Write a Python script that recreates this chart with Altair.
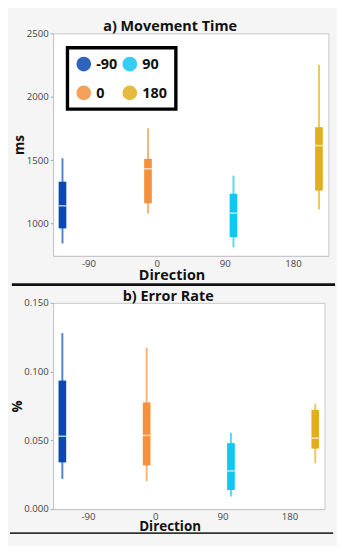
import altair as alt
import pandas as pd

directions = ["-90", "0", "90", "180"]
colors = {"-90": "#0b49b2", "0": "#f5913c", "90": "#10c6f3", "180": "#e1ae1f"}
panel_titles = ["a) Movement Time", "b) Error Rate"]
y_titles = ["ms", "%"]

mt_min = [843, 1078, 812, 1110]
mt_q1 = [962, 1160, 893, 1260]
mt_med = [1140, 1432, 1082, 1615]
mt_q3 = [1330, 1510, 1235, 1760]
mt_max = [1515, 1752, 1378, 2252]

er_min = [0.022, 0.0204, 0.0092, 0.0334]
er_q1 = [0.034, 0.0318, 0.0139, 0.044]
er_med = [0.053, 0.0536, 0.0278, 0.0516]
er_q3 = [0.0935, 0.0776, 0.048, 0.0722]
er_max = [0.128, 0.1175, 0.0556, 0.0767]

FONT = "Open Sans"
BG = "#f5f5f5"

mt = pd.DataFrame({"Direction": directions, "lo": mt_min, "q1": mt_q1,
                   "med": mt_med, "q3": mt_q3, "hi": mt_max})
er = pd.DataFrame({"Direction": directions, "lo": er_min, "q1": er_q1,
                   "med": er_med, "q3": er_q3, "hi": er_max})

color_scale = alt.Scale(domain=directions, range=[colors[d] for d in directions])


def panel(df, title, ytitle, ydomain, yvalues, labelexpr, yfmt, width, height,
          show_legend, title_x, rule_left, rule_right, sep_y, sep_w, sep_color,
          ytitle_x, xtitle_size, xtitle_pad):
    xbox = alt.X("Direction:O", scale=alt.Scale(type="point", domain=directions, padding=0.11), axis=None)
    y_axis = alt.Axis(values=yvalues, labelExpr=labelexpr, format=yfmt, grid=False, tickSize=3,
                      tickColor="#aaaaaa", labelPadding=2, labelFontSize=10, labelColor="#444444",
                      labelFont=FONT, domainColor="#c4c4c4", title=ytitle, titleFontSize=14,
                      titleFont=FONT, titleFontWeight="bold", titleColor="#111111",
                      titleX=ytitle_x, titleBaseline="top")
    if show_legend:
        legend = alt.Legend(orient="top-left", offset=15, columns=2, title=None,
                            strokeColor="black", fillColor="white", padding=9,
                            symbolType="circle", symbolSize=235, symbolStrokeWidth=0,
                            symbolOpacity=0.85,
                            labelFontSize=15, labelFontWeight="bold", labelColor="#111111",
                            labelFont=FONT, labelOffset=5, rowPadding=14, columnPadding=5)
    else:
        legend = None
    col = alt.Color("Direction:N", scale=color_scale, legend=legend)
    base = alt.Chart(df)
    deco = alt.Chart(pd.DataFrame({"t": [title]}))
    yenc = alt.Y("lo:Q", scale=alt.Scale(domain=ydomain, nice=False, zero=False), axis=y_axis)
    whisk = base.mark_rule(strokeWidth=2, opacity=0.7).encode(x=xbox, y=yenc, y2="hi:Q", color=col)
    box = base.mark_bar(size=8).encode(x=xbox, y="q1:Q", y2="q3:Q", color=col)
    med = base.mark_tick(color="white", thickness=1.5, size=8).encode(x=xbox, y="med:Q")
    labels = base.mark_point(opacity=0).encode(
        x=alt.X("Direction:O", scale=alt.Scale(type="point", domain=directions, padding=0.52),
                axis=alt.Axis(orient="bottom", labelAngle=0, ticks=False, labelPadding=3,
                              labelFontSize=10, labelColor="#444444", labelFont=FONT,
                              domainColor="#c4c4c4", title="Direction", titleFontSize=xtitle_size,
                              titleFont=FONT, titleFontWeight="bold", titleColor="#111111",
                              titleX=width / 2 - 20, titlePadding=xtitle_pad)),
        y=alt.value(height / 2),
    )
    sep = deco.mark_rule(color=sep_color, strokeWidth=sep_w).encode(
        x=alt.value(rule_left), x2=alt.value(width + rule_right), y=alt.value(sep_y))
    ttl = deco.mark_text(font=FONT, fontSize=15, fontWeight="bold", color="#111111",
                         align="center", baseline="alphabetic").encode(
        text="t:N", x=alt.value(title_x), y=alt.value(-2))
    ch = alt.layer(labels, whisk, box, med, sep, ttl).resolve_scale(x="independent").properties(
        width=width, height=height)
    return ch


p1 = panel(mt, panel_titles[0], y_titles[0], [745, 2500], list(range(1000, 2501, 250)),
           "datum.value % 500 == 0 ? datum.label : ''", "d", 287, 232, True,
           122, -43, 7, 262, 3, "#111111", -42, 15, 0)
p2 = panel(er, panel_titles[1], y_titles[1], [0, 0.15], [0, 0.025, 0.05, 0.075, 0.1, 0.125, 0.15],
           "datum.label", ".3f", 283, 215, False,
           120, -45, 9, 240, 2, "#333333", -44, 14, -2)

chart = alt.vconcat(p1, p2, spacing=2).resolve_scale(color="independent").configure(
    background=BG, padding={"left": 0, "top": 0, "right": 0, "bottom": 0}
).configure_view(fill="white", stroke="#c8c8c8", strokeWidth=1).configure_legend(strokeWidth=3.5)

chart.save("out.html", embed_options={"renderer": "svg", "actions": False})
